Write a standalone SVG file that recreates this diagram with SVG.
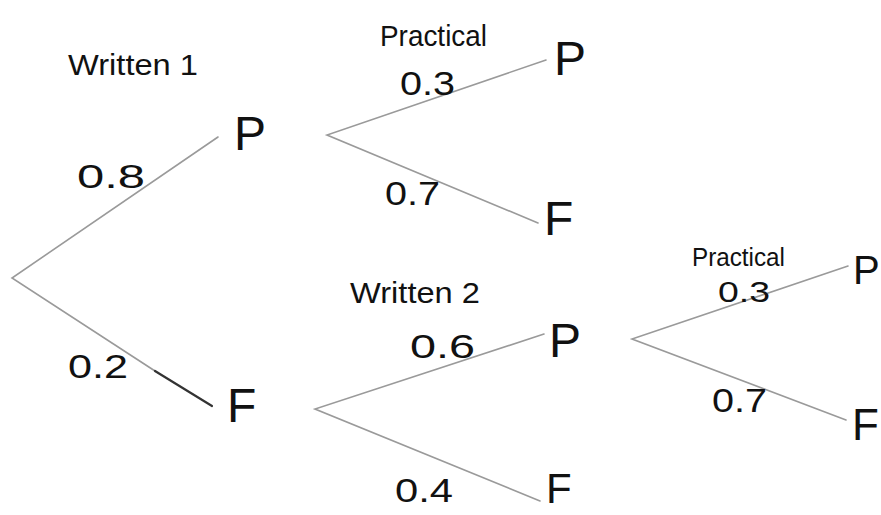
<svg xmlns="http://www.w3.org/2000/svg" width="881" height="515" viewBox="0 0 881 515">
<style>
.edge{stroke:#9a9a9a;stroke-width:1.6;fill:none;stroke-linecap:round}
.dark{stroke:#333;stroke-width:2.2}
.lbl{font-family:"Liberation Sans","Noto Sans",sans-serif;fill:#111}
.node{font-family:"Liberation Sans","Noto Sans",sans-serif;fill:#111;font-size:48px}
.head{font-size:29px}
.prob{font-size:33px}
</style>
<rect width="881" height="515" fill="#fff"/>
<g id="connectors">
<path class="edge" d="M218 137 L12 278 L155 371"/>
<path class="edge dark" d="M155 371 L212 406"/>
<path class="edge" d="M546 60 L327 135 L538 223"/>
<path class="edge" d="M544 334 L315 409 L540 501"/>
<path class="edge" d="M848 266 L632 339 L846 420"/>
</g>
<g id="headings">
<text class="lbl head" x="68" y="75" textLength="130" lengthAdjust="spacingAndGlyphs">Written 1</text>
<text class="lbl head" x="380" y="46" textLength="107" lengthAdjust="spacingAndGlyphs">Practical</text>
<text class="lbl head" x="350" y="303" textLength="130" lengthAdjust="spacingAndGlyphs">Written 2</text>
<text class="lbl" style="font-size:25px" x="692" y="266" textLength="93" lengthAdjust="spacingAndGlyphs">Practical</text>
</g>
<g id="probs">
<text class="lbl prob" x="77" y="188" textLength="68" lengthAdjust="spacingAndGlyphs">0.8</text>
<text class="lbl prob" x="68" y="378" textLength="60" lengthAdjust="spacingAndGlyphs">0.2</text>
<text class="lbl prob" x="400" y="95" textLength="55" lengthAdjust="spacingAndGlyphs">0.3</text>
<text class="lbl prob" x="385" y="205" textLength="55" lengthAdjust="spacingAndGlyphs">0.7</text>
<text class="lbl prob" x="410" y="358" textLength="65" lengthAdjust="spacingAndGlyphs">0.6</text>
<text class="lbl prob" x="395" y="502" textLength="58" lengthAdjust="spacingAndGlyphs">0.4</text>
<text class="lbl" style="font-size:29px" x="718" y="302" textLength="52" lengthAdjust="spacingAndGlyphs">0.3</text>
<text class="lbl prob" x="712" y="412" textLength="55" lengthAdjust="spacingAndGlyphs">0.7</text>
</g>
<g id="w1-P"><text class="node" x="234" y="150">P</text></g>
<g id="w1-F"><text class="node" x="227" y="422">F</text></g>
<g id="pr1-P"><text class="node" x="554" y="75">P</text></g>
<g id="pr1-F"><text class="node" x="544" y="235">F</text></g>
<g id="w2-P"><text class="node" x="549" y="357">P</text></g>
<g id="w2-F"><text class="node" style="font-size:42px" x="546" y="503">F</text></g>
<g id="pr2-P"><text class="node" style="font-size:40px" x="853" y="284">P</text></g>
<g id="pr2-F"><text class="node" style="font-size:44px" x="852" y="440">F</text></g>
</svg>
